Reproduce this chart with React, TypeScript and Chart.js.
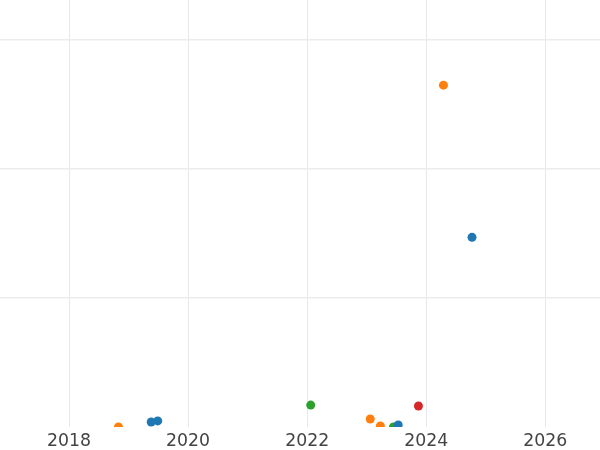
import React, { useEffect, useRef } from "react";
import { Chart, registerables } from "chart.js";

Chart.register(...registerables);

const blueX = [2019.38, 2019.49, 2023.53, 2024.77];
const blueY = [3.9, 4.7, 1.6, 147];
const orangeX = [2018.83, 2023.06, 2023.23, 2024.29];
const orangeY = [0, 6.2, 0.8, 265];
const greenX = [2022.06, 2023.45];
const greenY = [17, 0];
const redX = [2023.87];
const redY = [16.3];

const xTicks = [2018, 2020, 2022, 2024, 2026];

const pts = (xs: number[], ys: number[]) => xs.map((x, i) => ({ x, y: ys[i] }));

export default function App() {
  const ref = useRef<HTMLCanvasElement | null>(null);
  useEffect(() => {
    if (!ref.current) return;
    const mk = (label: string, xs: number[], ys: number[], color: string) => ({
      label,
      data: pts(xs, ys),
      backgroundColor: color,
      borderColor: color,
      pointRadius: 4.5,
      borderWidth: 0,
      clip: 0,
    });
    const chart = new Chart(ref.current, {
      type: "scatter",
      data: {
        datasets: [
          mk("blue", blueX, blueY, "#1f77b4"),
          mk("orange", orangeX, orangeY, "#ff7f0e"),
          mk("green", greenX, greenY, "#2ca02c"),
          mk("red", redX, redY, "#d62728"),
        ],
      },
      options: {
        animation: false,
        responsive: false,
        maintainAspectRatio: false,
        layout: { padding: 0, autoPadding: false },
        plugins: { legend: { display: false }, tooltip: { enabled: false } },
        scales: {
          x: {
            type: "linear",
            min: 2016.84,
            max: 2026.92,
            afterBuildTicks: (axis: any) => {
              axis.ticks = xTicks.map((v) => ({ value: v }));
            },
            afterFit: (axis: any) => {
              axis.height = 23;
            },
            ticks: {
              includeBounds: false,
              padding: 4,
              color: "#444444",
              font: { family: "DejaVu Sans", size: 17.3 },
              callback: (v: any) => String(v),
              maxRotation: 0,
            },
            grid: { color: "#e8e8e8", lineWidth: 1, drawTicks: false },
            border: { display: false },
          },
          y: {
            type: "linear",
            min: 0,
            max: 331,
            afterFit: (axis: any) => {
              axis.width = 0;
            },
            ticks: { display: false, stepSize: 100, includeBounds: false },
            grid: {
              color: (ctx: any) => (ctx.tick && ctx.tick.value === 0 ? "rgba(0,0,0,0)" : "#ececec"),
              lineWidth: 1.5,
              drawTicks: false,
            },
            border: { display: false },
          },
        },
      },
    });
    return () => chart.destroy();
  }, []);
  return (
    <div style={{ position: "fixed", left: 0, top: 0, width: 600, height: 450, background: "#fff", overflow: "hidden" }}>
      <canvas ref={ref} width={600} height={450} style={{ display: "block" }} />
    </div>
  );
}
